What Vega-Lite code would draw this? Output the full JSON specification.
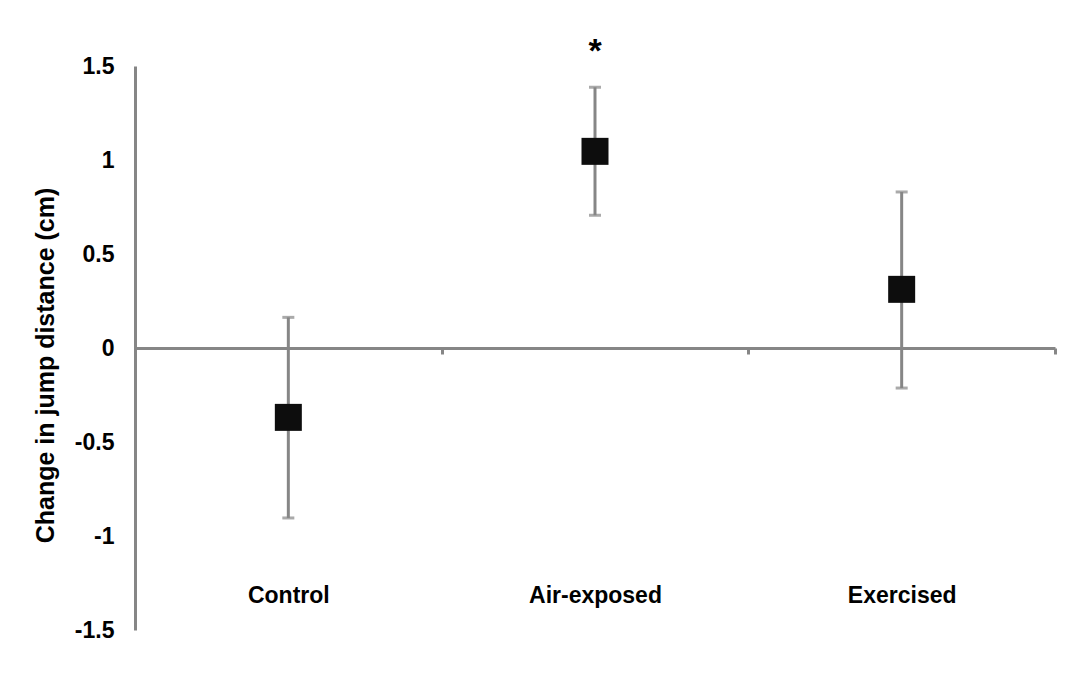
{
  "$schema": "https://vega.github.io/schema/vega-lite/v6.json",
  "width": 920,
  "height": 564,
  "autosize": {"type": "none"},
  "padding": {"left": 135, "top": 66, "right": 17, "bottom": 60},
  "background": "white",
  "config": {
    "view": {"stroke": null},
    "font": "Liberation Sans"
  },
  "data": {
    "values": [
      {"group": "Control", "mean": -0.369, "lo": -0.904, "hi": 0.163, "sig": ""},
      {"group": "Air-exposed", "mean": 1.046, "lo": 0.706, "hi": 1.387, "sig": "*"},
      {"group": "Exercised", "mean": 0.312, "lo": -0.213, "hi": 0.830, "sig": ""}
    ]
  },
  "encoding": {
    "x": {
      "field": "group",
      "type": "nominal",
      "sort": ["Control", "Air-exposed", "Exercised"],
      "scale": {"type": "band", "paddingInner": 0, "paddingOuter": 0},
      "axis": {
        "title": null,
        "orient": "bottom",
        "offset": -282,
        "domainColor": "#868686",
        "domainWidth": 3,
        "tickColor": "#868686",
        "tickWidth": 3,
        "tickSize": 6,
        "tickBand": "extent",
        "labelAngle": 0,
        "labelFont": "Liberation Sans",
        "labelFontWeight": "bold",
        "labelFontSize": 23,
        "labelColor": "#000000",
        "labelPadding": 230
      }
    }
  },
  "layer": [
    {
      "mark": {"type": "rule", "color": "#868686", "strokeWidth": 3},
      "encoding": {
        "y": {
          "field": "lo",
          "type": "quantitative",
          "scale": {"domain": [-1.5, 1.5], "nice": false, "zero": false},
          "axis": {
            "title": "Change in jump distance (cm)",
            "titleFont": "Liberation Sans",
            "titleFontWeight": "bold",
            "titleFontSize": 25,
            "titleColor": "#000000",
            "titlePadding": 16,
            "titleY": 299,
            "values": [-1.5, -1, -0.5, 0, 0.5, 1, 1.5],
            "labelExpr": "'' + datum.value",
            "grid": false,
            "ticks": false,
            "tickSize": 0,
            "domainColor": "#868686",
            "domainWidth": 3,
            "labelFont": "Liberation Sans",
            "labelFontWeight": "bold",
            "labelFontSize": 23,
            "labelColor": "#000000",
            "labelPadding": 21
          }
        },
        "y2": {"field": "hi"}
      }
    },
    {
      "mark": {"type": "tick", "color": "#868686", "thickness": 3, "size": 12},
      "encoding": {"y": {"field": "lo", "type": "quantitative"}}
    },
    {
      "mark": {"type": "tick", "color": "#868686", "thickness": 3, "size": 12},
      "encoding": {"y": {"field": "hi", "type": "quantitative"}}
    },
    {
      "mark": {"type": "point", "shape": "square", "filled": true, "color": "#0d0d0d", "opacity": 1, "size": 729},
      "encoding": {"y": {"field": "mean", "type": "quantitative"}}
    },
    {
      "mark": {"type": "text", "font": "Liberation Sans", "fontWeight": "bold", "fontSize": 34, "color": "#000000", "baseline": "alphabetic", "dy": -25},
      "encoding": {
        "y": {"field": "hi", "type": "quantitative"},
        "text": {"field": "sig"}
      }
    }
  ]
}
